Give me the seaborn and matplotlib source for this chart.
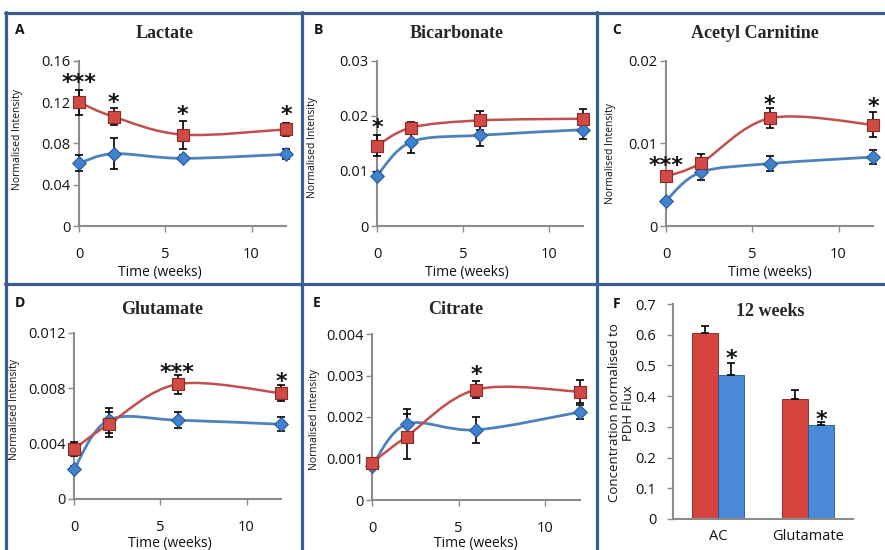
import numpy as np
import pandas as pd
import seaborn as sns
import matplotlib.pyplot as plt
from matplotlib.path import Path
from matplotlib.patches import PathPatch
from matplotlib.lines import Line2D

# ---- data ----
weeks = [0, 2, 6, 12]

lactate_red = [0.120, 0.106, 0.0886, 0.0937]
lactate_red_err = [0.012, 0.008, 0.0136, 0.0065]
lactate_blue = [0.0608, 0.0701, 0.0656, 0.0695]
lactate_blue_err = [0.0077, 0.015, 0.003, 0.005]

bicarb_red = [0.0146, 0.0179, 0.0192, 0.0195]
bicarb_red_err = [0.0019, 0.0010, 0.0017, 0.0018]
bicarb_blue = [0.00915, 0.0153, 0.0165, 0.0175]
bicarb_blue_err = [0.0006, 0.0020, 0.0020, 0.0017]

acetyl_red = [0.0060, 0.0076, 0.01305, 0.01228]
acetyl_red_err = [0.0007, 0.0011, 0.0012, 0.0015]
acetyl_blue = [0.00307, 0.0065, 0.00756, 0.00836]
acetyl_blue_err = [0.0002, 0.0009, 0.0009, 0.0009]

glut_red = [0.0036, 0.0054, 0.0083, 0.00765]
glut_red_err = [0.0005, 0.0009, 0.0007, 0.0006]
glut_blue = [0.00215, 0.0057, 0.0057, 0.0054]
glut_blue_err = [0.0002, 0.0009, 0.0006, 0.0005]

citrate_red = [0.0009, 0.00153, 0.00266, 0.00261]
citrate_red_err = [0.0001, 0.00054, 0.0002, 0.00028]
citrate_blue = [0.00082, 0.00183, 0.00169, 0.00212]
citrate_blue_err = [0.00005, 0.00037, 0.00032, 0.00018]

lactate_ticks = [0, 0.04, 0.08, 0.12, 0.16]
lactate_labels = ['0', '0.04', '0.08', '0.12', '0.16']
bicarb_ticks = [0, 0.01, 0.02, 0.03]
bicarb_labels = ['0', '0.01', '0.02', '0.03']
acetyl_ticks = [0, 0.01, 0.02]
acetyl_labels = ['0', '0.01', '0.02']
glut_ticks = [0, 0.004, 0.008, 0.012]
glut_labels = ['0', '0.004', '0.008', '0.012']
citrate_ticks = [0, 0.001, 0.002, 0.003, 0.004]
citrate_labels = ['0', '0.001', '0.002', '0.003', '0.004']

# significance marks (week, value, text)
lactate_stars = [(0, 0.144, '***'), (2, 0.125, '*'), (6, 0.113, '*'), (12, 0.113, '*')]
bicarb_stars = [(0, 0.0189, '*')]
acetyl_stars = [(0, 0.0079, '***'), (6, 0.0154, '*'), (12, 0.01515, '*')]
glut_stars = [(6, 0.0095, '***'), (12, 0.00886, '*')]
citrate_stars = [(6, 0.00314, '*')]

bar_categories = ['AC', 'Glutamate']
bar_groups = ['Group 1', 'Group 2']
f_red = [0.6045, 0.390]
f_red_err = [0.025, 0.030]
f_blue = [0.468, 0.3055]
f_blue_err = [0.040, 0.010]
f_stars = [0.54, 0.339]
f_ticks = [0, 0.1, 0.2, 0.3, 0.4, 0.5, 0.6, 0.7]
f_labels = ['0', '0.1', '0.2', '0.3', '0.4', '0.5', '0.6', '0.7']

# ---- style ----
RED_LINE = '#c0504d'
BLUE_LINE = '#4f81bd'
RED_FILL = '#d24a45'
RED_EDGE = '#8c2a27'
BLUE_FILL = '#3f82cf'
BLUE_EDGE = '#2a5b96'
RED_BAR = '#d6433d'
BLUE_BAR = '#4a8ad8'
GREY = '#8c8c8c'
FRAME = '#3b5f8e'

sns.set_theme(style='ticks')
plt.rcParams['font.family'] = ['Open Sans', 'DejaVu Sans']

W, H = 885, 550
fig = plt.figure(figsize=(W / 100, H / 100), dpi=100)


def px_rect(l, t, r, b):
    return [l / W, 1 - b / H, (r - l) / W, (b - t) / H]


def fx(x):
    return x / W


def fy(y):
    return 1 - y / H


def smooth_path(xs, ys):
    # Excel-like smoothed line: Catmull-Rom segments as cubic Beziers
    pts = np.column_stack([xs, ys]).astype(float)
    n = len(pts)
    verts = [pts[0]]
    codes = [Path.MOVETO]
    for i in range(n - 1):
        p0 = pts[max(i - 1, 0)]
        p1 = pts[i]
        p2 = pts[i + 1]
        p3 = pts[min(i + 2, n - 1)]
        verts += [p1 + (p2 - p0) / 6, p2 - (p3 - p1) / 6, p2]
        codes += [Path.CURVE4] * 3
    return Path(verts, codes)


def style_axes(ax):
    sns.despine(ax=ax)
    for s in ['left', 'bottom']:
        ax.spines[s].set_color(GREY)
        ax.spines[s].set_linewidth(1.5)
    ax.tick_params(axis='both', length=4, width=1, color=GREY,
                   labelsize=10.5, labelcolor='#111111')


def star(ax, x, y, text):
    ax.annotate(text, xy=(x, y), xytext=(0, -4), textcoords='offset points',
                ha='center', va='center', fontsize=16, fontweight='bold',
                color='#111111', family='DejaVu Sans')


# panel frames
for y in [13, 284]:
    fig.add_artist(Line2D([fx(5), fx(885)], [fy(y), fy(y)], color=FRAME, lw=2.3))
for x in [6, 301.5, 596.5]:
    fig.add_artist(Line2D([fx(x), fx(x)], [fy(12), fy(551)], color=FRAME, lw=2.3))

line_panels = [
    dict(letter='A', title='Lactate', red=lactate_red, red_err=lactate_red_err,
         blue=lactate_blue, blue_err=lactate_blue_err, ymax=0.16,
         ticks=lactate_ticks, labels=lactate_labels, stars=lactate_stars,
         rect=(79, 61, 286, 226), letter_xy=(20, 30), title_xy=(165, 34),
         ylab_xy=(18, 140), xlab_xy=(160, 272)),
    dict(letter='B', title='Bicarbonate', red=bicarb_red, red_err=bicarb_red_err,
         blue=bicarb_blue, blue_err=bicarb_blue_err, ymax=0.03,
         ticks=bicarb_ticks, labels=bicarb_labels, stars=bicarb_stars,
         rect=(377, 61, 583, 226), letter_xy=(318, 30), title_xy=(457, 34),
         ylab_xy=(313, 148), xlab_xy=(467, 272)),
    dict(letter='C', title='Acetyl Carnitine', red=acetyl_red, red_err=acetyl_red_err,
         blue=acetyl_blue, blue_err=acetyl_blue_err, ymax=0.02,
         ticks=acetyl_ticks, labels=acetyl_labels, stars=acetyl_stars,
         rect=(666, 61, 873, 226), letter_xy=(617, 30), title_xy=(755, 34),
         ylab_xy=(610, 153), xlab_xy=(770, 272)),
    dict(letter='D', title='Glutamate', red=glut_red, red_err=glut_red_err,
         blue=glut_blue, blue_err=glut_blue_err, ymax=0.012,
         ticks=glut_ticks, labels=glut_labels, stars=glut_stars,
         rect=(74, 333, 281, 499), letter_xy=(20, 303), title_xy=(162, 310),
         ylab_xy=(15, 410), xlab_xy=(170, 543)),
    dict(letter='E', title='Citrate', red=citrate_red, red_err=citrate_red_err,
         blue=citrate_blue, blue_err=citrate_blue_err, ymax=0.004,
         ticks=citrate_ticks, labels=citrate_labels, stars=citrate_stars,
         rect=(372, 334, 580, 500), letter_xy=(317, 303), title_xy=(456, 309),
         ylab_xy=(315, 420), xlab_xy=(476, 544)),
]

for p in line_panels:
    ax = fig.add_axes(px_rect(*p['rect']))
    ax.add_patch(PathPatch(smooth_path(weeks, p['blue']), fill=False,
                           ec=BLUE_LINE, lw=2.0, zorder=2))
    ax.add_patch(PathPatch(smooth_path(weeks, p['red']), fill=False,
                           ec=RED_LINE, lw=1.8, zorder=2.1))
    ax.errorbar(weeks, p['blue'], yerr=p['blue_err'], fmt='none', ecolor='black',
                elinewidth=1.2, capsize=3, capthick=1.2, zorder=3)
    ax.errorbar(weeks, p['red'], yerr=p['red_err'], fmt='none', ecolor='black',
                elinewidth=1.2, capsize=3, capthick=1.2, zorder=3)
    sns.scatterplot(x=weeks, y=p['blue'], marker='D', s=48, color=BLUE_FILL,
                    edgecolor=BLUE_EDGE, linewidth=0.8, ax=ax, zorder=4)
    sns.scatterplot(x=weeks, y=p['red'], marker='s', s=75, color=RED_FILL,
                    edgecolor=RED_EDGE, linewidth=0.8, ax=ax, zorder=5)
    for art in ax.collections + ax.lines + ax.patches:
        art.set_clip_on(False)
    for (sx, sy, st) in p['stars']:
        star(ax, sx, sy, st)
    ax.set_xlim(0, 12)
    ax.set_ylim(0, p['ymax'])
    ax.set_xticks([0, 5, 10])
    ax.set_xticklabels(['0', '5', '10'])
    ax.set_yticks(p['ticks'])
    ax.set_yticklabels(p['labels'])
    style_axes(ax)
    ax.tick_params(axis='x', pad=11)
    ax.tick_params(axis='y', pad=2)
    ax.set_xlabel('Time (weeks)', fontsize=10, color='#111111')
    ax.xaxis.set_label_coords(fx(p['xlab_xy'][0]), fy(p['xlab_xy'][1]), transform=fig.transFigure)
    ax.xaxis.label.set_va('center')
    ax.set_ylabel('Normalised Intensity', fontsize=7.5, color='#111111')
    ax.yaxis.set_label_coords(fx(p['ylab_xy'][0]), fy(p['ylab_xy'][1]), transform=fig.transFigure)
    ax.yaxis.label.set_va('center')
    fig.text(fx(p['letter_xy'][0]), fy(p['letter_xy'][1]), p['letter'], ha='center',
             va='center', fontsize=10, fontweight='bold', color='#111111')
    fig.text(fx(p['title_xy'][0]), fy(p['title_xy'][1]), p['title'], ha='center',
             va='center', fontsize=13, fontweight='bold', family='Liberation Serif')

# ---- panel F: bars at 12 weeks ----
axf = fig.add_axes(px_rect(673, 304, 853, 519))
bar_df = pd.DataFrame({
    'metabolite': bar_categories * 2,
    'group': [bar_groups[0]] * 2 + [bar_groups[1]] * 2,
    'value': f_red + f_blue,
})
sns.barplot(data=bar_df, x='metabolite', y='value', hue='group',
            palette={bar_groups[0]: RED_BAR, bar_groups[1]: BLUE_BAR},
            width=0.58, errorbar=None, legend=False, saturation=1,
            edgecolor='#7a2522', linewidth=0.6, ax=axf)
for bar in axf.containers[1]:
    bar.set_edgecolor('#24568f')
for cont, errs in zip(axf.containers, [f_red_err, f_blue_err]):
    xs = [b.get_x() + b.get_width() / 2 for b in cont]
    hs = [b.get_height() for b in cont]
    axf.errorbar(xs, hs, yerr=[np.zeros(len(errs)), errs], fmt='none', ecolor='black',
                 elinewidth=1.2, capsize=3, capthick=1.2, zorder=3)
blue_x = [b.get_x() + b.get_width() / 2 for b in axf.containers[1]]
for bx, sy in zip(blue_x, f_stars):
    star(axf, bx, sy, '*')
axf.set_xlim(-0.5, 1.5)
axf.set_ylim(0, 0.7)
axf.set_yticks(f_ticks)
axf.set_yticklabels(f_labels)
style_axes(axf)
axf.tick_params(axis='x', length=0, pad=7)
axf.tick_params(axis='y', pad=8)
axf.set_xlabel('')
axf.set_ylabel('Concentration normalised to\nPDH Flux', fontsize=9.5, color='#111111',
               linespacing=1.1)
axf.yaxis.set_label_coords(fx(622), fy(413), transform=fig.transFigure)
axf.yaxis.label.set_va('center')
fig.text(fx(617), fy(304), 'F', ha='center', va='center', fontsize=10,
         fontweight='bold', color='#111111')
fig.text(fx(770), fy(312), '12 weeks', ha='center', va='center', fontsize=13,
         fontweight='bold', family='Liberation Serif')

fig.savefig('out.png', dpi=100)
